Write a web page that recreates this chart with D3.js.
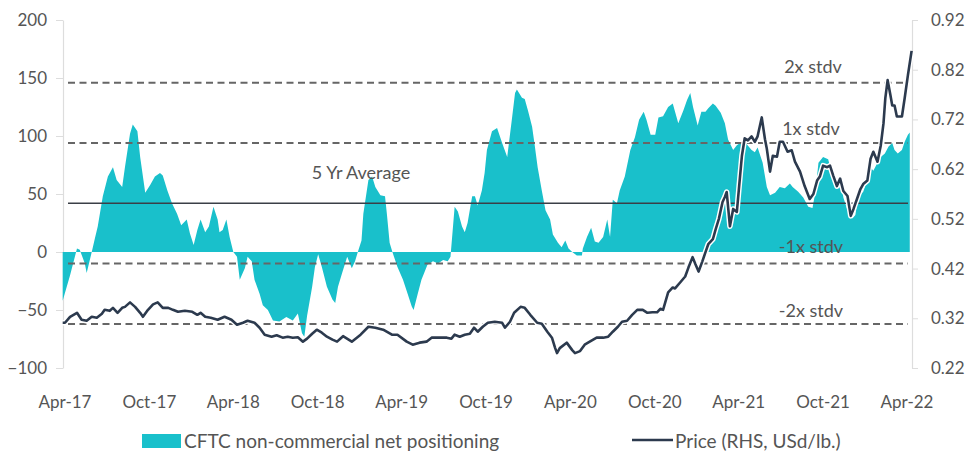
<!DOCTYPE html>
<meta charset="utf-8">
<script src="https://cdn.jsdelivr.net/npm/d3@7"></script>
<style>
body { margin: 0; background: #fff; }
text { font-family: Lato, "Noto Sans", sans-serif; fill: #555; }
.axis path, .axis line { stroke: #ddd; }
.axis text { font-size: 17px; fill: #555; }
</style>
<body>
<script>

// CFTC non-commercial net positioning (contracts, thousands)
var cftcDates = ["2017-03-27","2017-04-12","2017-04-27","2017-05-03","2017-05-14","2017-05-18","2017-05-29","2017-06-05","2017-06-11","2017-06-22",
  "2017-07-03","2017-07-14","2017-07-22","2017-08-03","2017-08-09","2017-08-20","2017-08-26","2017-09-05","2017-09-11","2017-09-22",
  "2017-10-03","2017-10-13","2017-10-24","2017-10-30","2017-11-09","2017-11-19","2017-11-30","2017-12-09","2017-12-21","2017-12-28",
  "2018-01-05","2018-01-13","2018-01-20","2018-01-30","2018-02-07","2018-02-17","2018-02-26","2018-03-02","2018-03-09","2018-03-17",
  "2018-03-24","2018-04-01","2018-04-09","2018-04-15","2018-04-26","2018-05-02","2018-05-11","2018-05-17","2018-05-28","2018-06-04",
  "2018-06-15","2018-06-26","2018-07-10","2018-07-25","2018-08-08","2018-08-19","2018-08-28","2018-09-02","2018-09-08","2018-09-19",
  "2018-09-25","2018-10-02","2018-10-10","2018-10-21","2018-11-02","2018-11-08","2018-11-14","2018-11-23","2018-12-04","2018-12-14",
  "2018-12-21","2018-12-27","2019-01-04","2019-01-08","2019-01-19","2019-01-27","2019-02-03","2019-02-14","2019-02-24","2019-02-28",
  "2019-03-06","2019-03-12","2019-03-23","2019-04-04","2019-04-14","2019-04-23","2019-04-27","2019-05-06","2019-05-14","2019-05-21",
  "2019-05-27","2019-06-08","2019-06-19","2019-06-30","2019-07-10","2019-07-16","2019-07-25","2019-08-01","2019-08-10","2019-08-16",
  "2019-08-22","2019-09-01","2019-09-07","2019-09-13","2019-09-22","2019-09-28","2019-10-03","2019-10-14","2019-10-25","2019-11-05",
  "2019-11-16","2019-11-26","2019-12-03","2019-12-07","2019-12-18","2019-12-24","2019-12-31","2020-01-09","2020-01-15","2020-01-21",
  "2020-01-30","2020-02-07","2020-02-17","2020-02-23","2020-03-05","2020-03-13","2020-03-21","2020-03-28","2020-04-05","2020-04-15",
  "2020-04-26","2020-04-28","2020-05-07","2020-05-16","2020-05-24","2020-06-01","2020-06-11","2020-06-20","2020-06-26","2020-07-02",
  "2020-07-11","2020-07-17","2020-07-28","2020-08-09","2020-08-19","2020-08-28","2020-09-07","2020-09-13","2020-09-22","2020-10-02",
  "2020-10-09","2020-10-19","2020-10-30","2020-11-09","2020-11-14","2020-11-21","2020-12-02","2020-12-10","2020-12-17","2020-12-23",
  "2021-01-02","2021-01-10","2021-01-19","2021-01-25","2021-02-04","2021-02-10","2021-02-21","2021-03-02","2021-03-09","2021-03-20",
  "2021-03-28","2021-04-08","2021-04-18","2021-04-29","2021-05-06","2021-05-12","2021-05-23","2021-06-01","2021-06-08","2021-06-19",
  "2021-06-29","2021-07-10","2021-07-21","2021-07-27","2021-08-08","2021-08-19","2021-08-30","2021-09-08","2021-09-14","2021-09-21",
  "2021-10-01","2021-10-12","2021-10-20","2021-10-27","2021-11-08","2021-11-14","2021-11-23","2021-12-04","2021-12-10","2021-12-16",
  "2021-12-27","2022-01-05","2022-01-12","2022-01-18","2022-01-27","2022-02-03","2022-02-12","2022-02-20","2022-02-28","2022-03-05",
  "2022-03-12","2022-03-21","2022-03-27","2022-04-03","2022-04-07"];
var cftcValues = [-42,-20,3,2,-10,-18,0,12,22,48,
  65,73,62,56,73,102,110,104,82,51,
  58,65,68,66,53,42,33,23,28,16,
  6,19,28,17,22,39,28,17,19,28,
  13,0,-4,-24,-14,-4,-8,-24,-36,-46,
  -50,-59,-60,-56,-59,-53,-70,-73,-55,-30,
  -13,-2,-13,-30,-41,-44,-30,-18,-4,-14,
  -8,0,10,33,62,65,56,49,48,33,
  8,0,-13,-24,-36,-47,-50,-36,-24,-17,
  -11,-8,-10,-7,-8,-4,39,35,22,17,
  25,48,48,40,53,68,88,104,107,94,
  82,114,137,140,133,132,122,108,91,73,
  53,36,28,15,8,4,10,3,0,-3,
  -3,3,13,21,9,8,13,28,13,45,
  42,53,65,88,99,114,121,114,101,101,
  116,117,125,128,121,111,122,131,137,125,
  109,121,121,124,128,126,120,111,97,88,
  92,95,93,88,86,90,77,56,49,51,
  56,55,59,56,52,47,39,38,51,77,
  82,80,68,62,64,47,36,29,32,47,
  52,62,73,70,77,82,85,91,94,88,
  85,88,95,101,103];

// Price (RHS, USd/lb.)
var priceDates = ["2017-03-27","2017-04-01","2017-04-12","2017-04-27","2017-05-07","2017-05-18","2017-05-29","2017-06-09","2017-06-20","2017-06-26",
  "2017-07-07","2017-07-14","2017-07-24","2017-08-03","2017-08-09","2017-08-20","2017-08-31","2017-09-11","2017-09-17","2017-09-28",
  "2017-10-09","2017-10-19","2017-10-30","2017-11-11","2017-11-21","2017-12-02","2017-12-17","2018-01-02","2018-01-13","2018-01-20",
  "2018-01-30","2018-02-11","2018-02-26","2018-03-13","2018-03-28","2018-04-09","2018-04-22","2018-05-02","2018-05-17","2018-05-28",
  "2018-06-08","2018-06-23","2018-07-04","2018-07-17","2018-07-28","2018-08-08","2018-08-19","2018-08-30","2018-09-08","2018-09-19",
  "2018-09-29","2018-10-10","2018-10-21","2018-11-02","2018-11-12","2018-11-25","2018-12-14","2019-01-02","2019-01-19","2019-02-03",
  "2019-02-20","2019-03-11","2019-03-23","2019-04-12","2019-04-25","2019-05-10","2019-05-25","2019-06-05","2019-06-19","2019-07-08",
  "2019-07-18","2019-07-25","2019-08-05","2019-08-16","2019-08-27","2019-09-05","2019-09-13","2019-09-24","2019-10-05","2019-10-20",
  "2019-11-05","2019-11-11","2019-11-22","2019-12-01","2019-12-15","2019-12-24","2020-01-05","2020-01-20","2020-01-30","2020-02-11",
  "2020-02-21","2020-02-28","2020-03-03","2020-03-09","2020-03-24","2020-04-05","2020-04-11","2020-04-22","2020-05-02","2020-05-13",
  "2020-05-28","2020-06-11","2020-06-22","2020-07-02","2020-07-13","2020-07-22","2020-08-02","2020-08-13","2020-08-24","2020-09-05",
  "2020-09-15","2020-09-26","2020-10-06","2020-10-13","2020-10-19","2020-10-30","2020-11-09","2020-11-14","2020-11-25","2020-12-06",
  "2020-12-13","2020-12-22","2020-12-28","2021-01-04","2021-01-12","2021-01-19","2021-01-25","2021-02-04","2021-02-10","2021-02-17",
  "2021-02-25","2021-03-02","2021-03-06","2021-03-13","2021-03-20","2021-03-28","2021-04-02","2021-04-08","2021-04-14","2021-04-21",
  "2021-04-29","2021-05-06","2021-05-12","2021-05-21","2021-05-28","2021-06-01","2021-06-08","2021-06-14","2021-06-23","2021-06-29",
  "2021-07-06","2021-07-16","2021-07-25","2021-08-01","2021-08-12","2021-08-22","2021-09-02","2021-09-10","2021-09-18","2021-09-24",
  "2021-10-01","2021-10-10","2021-10-16","2021-10-23","2021-10-31","2021-11-07","2021-11-14","2021-11-23","2021-11-30","2021-12-06",
  "2021-12-15","2021-12-21","2021-12-27","2022-01-05","2022-01-12","2022-01-18","2022-01-27","2022-02-03","2022-02-09","2022-02-13",
  "2022-02-18","2022-02-24","2022-02-28","2022-03-05","2022-03-10","2022-03-21","2022-03-27","2022-04-03","2022-04-11"];
var priceValues = [0.311,0.311,0.323,0.331,0.317,0.315,0.323,0.321,0.329,0.337,
  0.335,0.341,0.331,0.341,0.343,0.352,0.343,0.331,0.323,0.337,
  0.348,0.352,0.341,0.341,0.337,0.333,0.335,0.333,0.327,0.331,
  0.323,0.321,0.317,0.323,0.317,0.307,0.311,0.315,0.311,0.301,
  0.287,0.283,0.286,0.281,0.283,0.281,0.282,0.273,0.279,0.289,
  0.297,0.291,0.283,0.277,0.273,0.284,0.273,0.287,0.303,0.301,
  0.297,0.287,0.287,0.273,0.267,0.271,0.273,0.281,0.281,0.281,
  0.279,0.287,0.283,0.287,0.289,0.301,0.293,0.303,0.311,0.313,
  0.311,0.301,0.313,0.331,0.343,0.341,0.327,0.311,0.309,0.293,
  0.281,0.260,0.250,0.260,0.271,0.256,0.250,0.254,0.267,0.273,
  0.281,0.281,0.283,0.293,0.303,0.313,0.315,0.327,0.337,0.337,
  0.331,0.332,0.332,0.339,0.337,0.372,0.382,0.380,0.392,0.404,
  0.422,0.443,0.429,0.414,0.434,0.453,0.469,0.479,0.499,0.520,
  0.554,0.564,0.574,0.505,0.540,0.534,0.586,0.647,0.682,0.678,
  0.686,0.675,0.686,0.724,0.680,0.661,0.615,0.647,0.645,0.675,
  0.675,0.655,0.658,0.635,0.615,0.586,0.560,0.570,0.597,0.605,
  0.627,0.624,0.627,0.607,0.586,0.601,0.576,0.566,0.526,0.540,
  0.564,0.580,0.590,0.597,0.641,0.655,0.635,0.667,0.712,0.763,
  0.799,0.769,0.748,0.748,0.726,0.726,0.763,0.809,0.858];

// reference lines: 5 yr average and +/- standard deviations
var refNames = ["2x stdv", "1x stdv", "5 Yr Average", "-1x stdv", "-2x stdv"];
var refValues = [146, 94, 42, -10, -62];

var leftTicks = [-100, -50, 0, 50, 100, 150, 200];
var rightTicks = [0.22, 0.32, 0.42, 0.52, 0.62, 0.72, 0.82, 0.92];
var xTickDates = ["2017-04-01","2017-10-01","2018-04-01","2018-10-01","2019-04-01","2019-10-01",
  "2020-04-01","2020-10-01","2021-04-01","2021-10-01","2022-04-01"];
var xTickLabels = ["Apr-17","Oct-17","Apr-18","Oct-18","Apr-19","Oct-19",
  "Apr-20","Oct-20","Apr-21","Oct-21","Apr-22"];

var width = 968, height = 454;
var teal = "#19c0cb", navy = "#2c3a4e";
var parse = d3.timeParse("%Y-%m-%d");

var cftc = cftcDates.map(function(d, i) { return {date: parse(d), value: cftcValues[i]}; });
var price = priceDates.map(function(d, i) { return {date: parse(d), value: priceValues[i]}; });

var x = d3.scaleTime()
    .domain([parse("2017-04-01"), parse("2022-04-01")])
    .range([65, 907]);
var yL = d3.scaleLinear().domain([-100, 200]).range([368, 20]);
var yR = d3.scaleLinear().domain([0.22, 0.92]).range([368, 20]);

var svg = d3.select("body").append("svg")
    .attr("width", width)
    .attr("height", height);

// axes
svg.append("g")
    .attr("class", "axis")
    .attr("transform", "translate(63,0)")
    .call(d3.axisLeft(yL).tickValues(leftTicks).tickSize(7).tickPadding(9).tickSizeOuter(0));
svg.append("g")
    .attr("class", "axis")
    .attr("transform", "translate(912,0)")
    .call(d3.axisRight(yR).tickValues(rightTicks).tickSize(6).tickPadding(13).tickSizeOuter(0)
      .tickFormat(d3.format(".2f")));
svg.selectAll(".axis .domain").attr("stroke-width", 1.2);

// x labels
svg.append("g")
  .selectAll("text")
  .data(xTickDates)
  .enter().append("text")
    .attr("x", function(d) { return x(parse(d)); })
    .attr("y", 408)
    .attr("text-anchor", "middle")
    .style("font-size", "17px")
    .text(function(d, i) { return xTickLabels[i]; });

// CFTC area
var area = d3.area()
    .x(function(d) { return x(d.date); })
    .y0(yL(0))
    .y1(function(d) { return yL(d.value); });

svg.append("path")
    .datum(cftc)
    .attr("d", area)
    .attr("fill", teal);

// reference lines
svg.append("g")
  .selectAll("line")
  .data(refValues)
  .enter().append("line")
    .attr("x1", 68)
    .attr("x2", 908)
    .attr("y1", function(d) { return yL(d); })
    .attr("y2", function(d) { return yL(d); })
    .attr("stroke", function(d, i) { return i == 2 ? "#3a3f47" : "#666"; })
    .attr("stroke-width", function(d, i) { return i == 2 ? 1.5 : 2; })
    .attr("stroke-dasharray", function(d, i) { return i == 2 ? null : "7,4.5"; });

// price line with white halo
var line = d3.line()
    .x(function(d) { return x(d.date); })
    .y(function(d) { return yR(d.value); });

svg.append("path")
    .datum(price)
    .attr("d", line)
    .attr("fill", "none")
    .attr("stroke", "#fff")
    .attr("stroke-width", 5.5)
    .attr("stroke-linejoin", "round");
svg.append("path")
    .datum(price)
    .attr("d", line)
    .attr("fill", "none")
    .attr("stroke", navy)
    .attr("stroke-width", 2.6)
    .attr("stroke-linejoin", "round");

// reference labels
var labelX = [813, 811, 361, 811, 811];
var labelDy = [-10, -8, -24, -11, -7];
svg.append("g")
  .selectAll("text")
  .data(refValues)
  .enter().append("text")
    .attr("x", function(d, i) { return labelX[i]; })
    .attr("y", function(d, i) { return yL(d) + labelDy[i]; })
    .attr("text-anchor", "middle")
    .style("font-size", "18px")
    .text(function(d, i) { return refNames[i]; });

// legend
svg.append("rect")
    .attr("x", 142).attr("y", 434)
    .attr("width", 39).attr("height", 14)
    .attr("fill", teal);
svg.append("text")
    .attr("x", 184).attr("y", 448)
    .style("font-size", "19px")
    .text("CFTC non-commercial net positioning");
svg.append("line")
    .attr("x1", 632).attr("x2", 673)
    .attr("y1", 440).attr("y2", 440)
    .attr("stroke", navy)
    .attr("stroke-width", 2.6);
svg.append("text")
    .attr("x", 675).attr("y", 448)
    .style("font-size", "19px")
    .text("Price (RHS, USd/lb.)");

</script>
</body>
</html>
